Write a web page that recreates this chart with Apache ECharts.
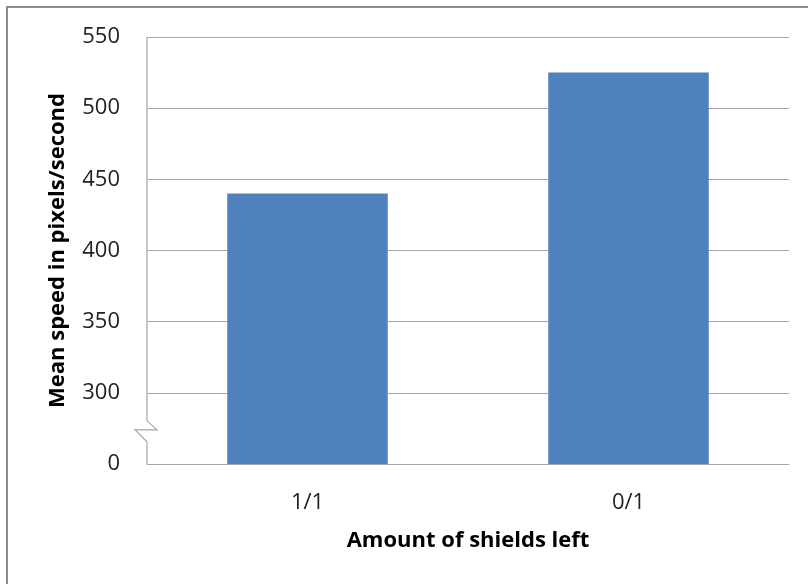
<!DOCTYPE html>
<html>
<head>
<meta charset="utf-8">
<script src="https://cdn.jsdelivr.net/npm/echarts@6/dist/echarts.min.js"></script>
<style>
  html, body { margin: 0; padding: 0; background: #fff; }
  #chart { width: 808px; height: 584px; }
</style>
</head>
<body>
<div id="chart"></div>
<script>
// Mean speed per shield state; the value axis is broken between 0 and 300
const categories = ['1/1', '0/1'];
const meanSpeed = [440, 525];
const axisBase = 250;          // bottom of the drawn scale, labelled as 0
const axisTop = 550;
const axisStep = 50;

const FONT = '"Open Sans", "Liberation Sans", sans-serif';
const LINE = '#a6a6a6';

const chart = echarts.init(document.getElementById('chart'), null, { renderer: 'canvas' });

chart.setOption({
  animation: false,
  backgroundColor: '#fff',
  grid: { left: 147, right: 19, top: 37, bottom: 120, containLabel: false },
  xAxis: {
    type: 'category',
    data: categories,
    name: 'Amount of shields left',
    nameLocation: 'middle',
    nameGap: 66,
    nameTextStyle: { fontFamily: FONT, fontSize: 22, fontWeight: 'bold', color: '#000' },
    axisLine: { show: true, lineStyle: { color: LINE, width: 1 } },
    axisTick: { show: false },
    axisLabel: { fontFamily: FONT, fontSize: 22, color: '#222', margin: 28 }
  },
  yAxis: {
    type: 'value',
    min: axisBase,
    max: axisTop,
    interval: axisStep,
    name: 'Mean speed in pixels/second',
    nameLocation: 'middle',
    nameGap: 78,
    nameTextStyle: { fontFamily: FONT, fontSize: 22, fontWeight: 'bold', color: '#000' },
    axisLine: { show: false },
    axisTick: { show: false },
    axisLabel: {
      fontFamily: FONT, fontSize: 22, color: '#222', margin: 27,
      formatter: v => (v === axisBase ? '0' : String(v))
    },
    splitLine: {
      show: true,
      lineStyle: { color: LINE, width: 1 }
    }
  },
  series: [{
    type: 'bar',
    data: meanSpeed,
    barWidth: '50%',
    itemStyle: { color: '#4f81bd' }
  }]
});

// Vertical axis line with a zigzag break between 0 and 300
function drawAxisWithBreak() {
  const top = chart.convertToPixel({ yAxisIndex: 0 }, axisTop);
  const bottom = chart.convertToPixel({ yAxisIndex: 0 }, axisBase);
  const x = 147;
  const mid = chart.convertToPixel({ yAxisIndex: 0 }, axisBase + axisStep * 0.48);
  const pts = [
    [x, top], [x, mid - 9], [x + 10, mid], [x - 12, mid], [x, mid + 12], [x, bottom]
  ];
  chart.setOption({
    graphic: [
      {
        type: 'polyline', shape: { points: pts }, silent: true, z: 10,
        style: { stroke: LINE, lineWidth: 1.2, fill: null }
      },
      {
        type: 'rect', shape: { x: 7, y: 7, width: 830, height: 600 }, silent: true, z: 10,
        style: { stroke: '#8c8c8c', lineWidth: 2, fill: null }
      }
    ]
  });
}
drawAxisWithBreak();
</script>
</body>
</html>
